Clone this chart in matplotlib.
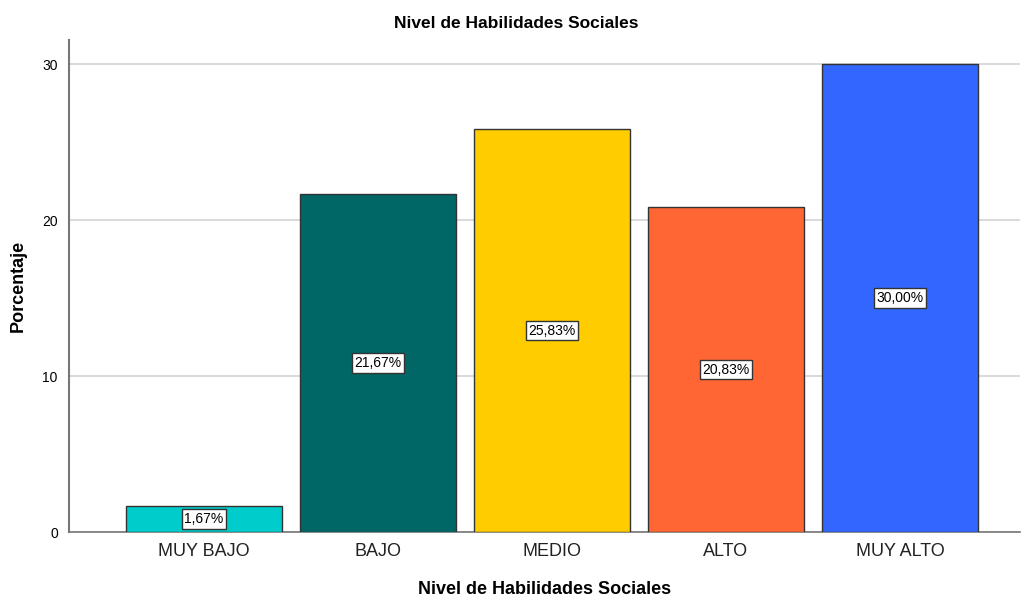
import matplotlib
matplotlib.use("Agg")
import matplotlib.pyplot as plt

categories = ["MUY BAJO", "BAJO", "MEDIO", "ALTO", "MUY ALTO"]
values = [1.67, 21.67, 25.83, 20.83, 30.00]
labels = ["1,67%", "21,67%", "25,83%", "20,83%", "30,00%"]
colors = ["#00CCCC", "#006666", "#FFCC00", "#FF6633", "#3366FF"]
yticks = [0, 10, 20, 30]

plt.rcParams['font.family'] = ['Liberation Sans', 'DejaVu Sans']

fig = plt.figure(figsize=(10.23, 6.01), dpi=100)
ax = fig.add_axes([0.0674, 0.1148, 0.9296, 0.8186])

x = list(range(len(categories)))
bars = ax.bar(x, values, width=0.9, color=colors, edgecolor="#333333", linewidth=1.0, zorder=3)

for xi, v, lab in zip(x, values, labels):
    ax.text(xi, v / 2, lab, ha="center", va="center", fontsize=10, color="black", zorder=4,
            bbox=dict(boxstyle="square,pad=0.2", facecolor="white", edgecolor="#333333", linewidth=1.0))

ax.set_xlim(-0.776, 4.69)
ax.set_ylim(0, 31.54)
ax.set_yticks(yticks)
ax.set_yticklabels([str(t) for t in yticks], fontsize=10)
ax.set_xticks(x)
ax.set_xticklabels(categories, fontsize=13, color="#222222")
ax.tick_params(axis="both", length=0, pad=8)
ax.tick_params(axis="x", pad=8)

ax.yaxis.grid(True, color="#D3D3D3", linewidth=1.2, zorder=0)
ax.set_axisbelow(True)
for s in ["top", "right"]:
    ax.spines[s].set_visible(False)
ax.spines["left"].set_color("#777777")
ax.spines["bottom"].set_color("#777777")
ax.spines["left"].set_linewidth(1.5)
ax.spines["bottom"].set_linewidth(1.2)

ax.set_ylabel("Porcentaje", fontsize=13, fontweight="bold", labelpad=11)
ax.set_xlabel("Nivel de Habilidades Sociales", fontsize=13, fontweight="bold", labelpad=15)
fig.text(0.505, 0.961, "Nivel de Habilidades Sociales", ha="center", va="center", fontsize=12.5, fontweight="bold")

fig.savefig("out.png", dpi=100, facecolor="white")
